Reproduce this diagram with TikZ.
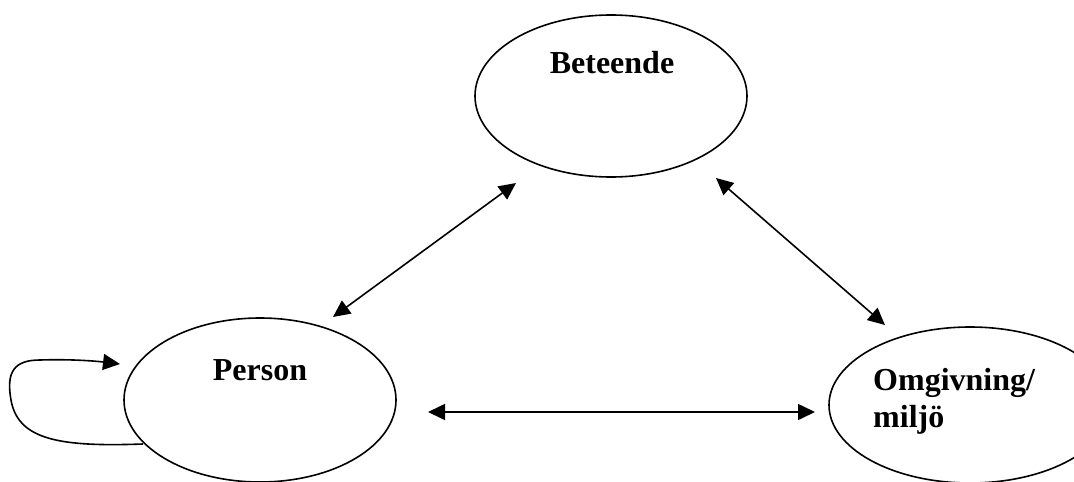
\documentclass[tikz,border=0pt]{standalone}
\usepackage{fontspec}
\setmainfont{Liberation Serif}
\usetikzlibrary{shapes.geometric,arrows.meta}
\begin{document}
\begin{tikzpicture}[x=1pt,y=-1pt,
  oval/.style={ellipse,draw,line width=1.6pt,inner sep=0pt},
  lbl/.style={font=\bfseries\fontsize{32}{37}\selectfont,inner sep=0pt},
  link/.style={line width=1.6pt,{Triangle[length=17pt,width=16pt]}-{Triangle[length=17pt,width=16pt]}},
  selfl/.style={line width=1.6pt,-{Triangle[length=17pt,width=16pt]}}]
\useasboundingbox (0,0) rectangle (1074,482);
\clip (0,0) rectangle (1074,482);
% ellipses
\node[oval,minimum width=272pt,minimum height=162pt] (B) at (611,96) {};
\node[oval,minimum width=272pt,minimum height=164pt] (P) at (260,400) {};
\node[oval,minimum width=282pt,minimum height=156pt] (O) at (970,405) {};
% labels
\node[lbl] (Bt) at (612,63) {Beteende};
\node[lbl] (Pt) at (260,370) {Person};
\node[lbl,anchor=base west,align=left] (Ot) at (873,427) {Omgivning/\\miljö};
% connector ends
\coordinate (pb1) at (333,317);
\coordinate (pb2) at (516,183);
\coordinate (ob1) at (716,178);
\coordinate (ob2) at (885,325);
\coordinate (po1) at (428,412);
\coordinate (po2) at (815,412);
\coordinate (ls) at (143,444);
\coordinate (le) at (120,364);
% connectors
\draw[link] (pb1) -- (pb2);
\draw[link] (ob1) -- (ob2);
\draw[link] (po1) -- (po2);
\draw[selfl] (ls) .. controls (60,447) and (18,440) .. (11,400)
  .. controls (6,372) and (14,360) .. (40,360)
  .. controls (70,359) and (95,361) .. (le);
\end{tikzpicture}
\end{document}
